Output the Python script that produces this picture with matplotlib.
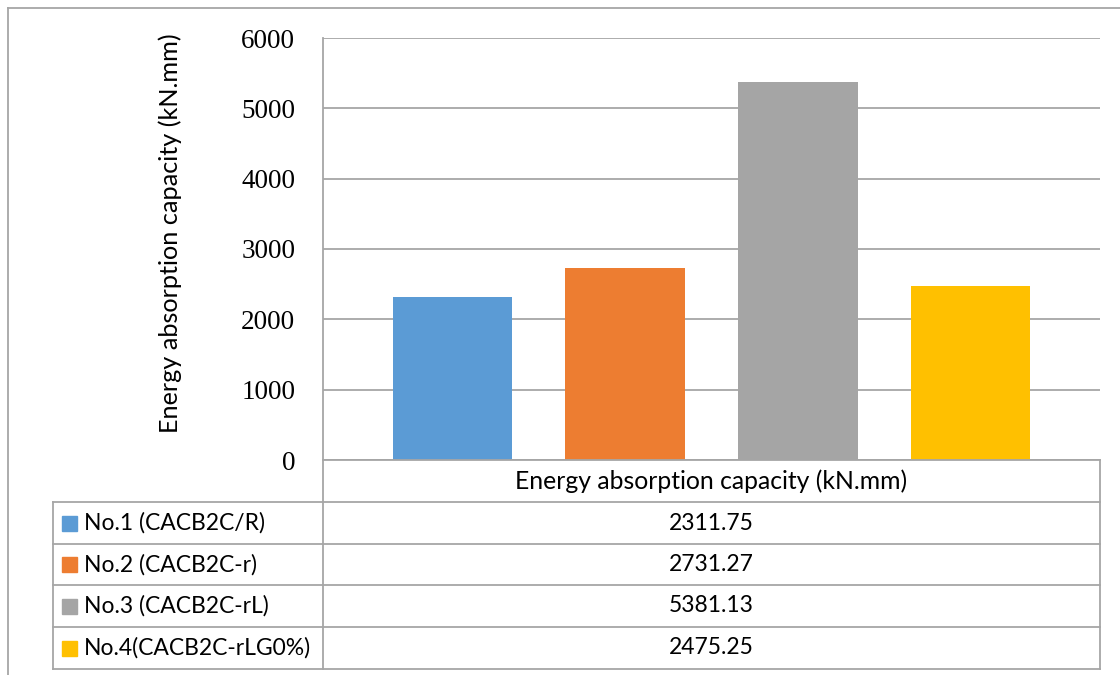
import matplotlib.pyplot as plt
from matplotlib.lines import Line2D
from matplotlib.patches import Rectangle
import numpy as np

# specimen series shown in the bar chart and its data table
specimens = ["No.1 (CACB2C/R)", "No.2 (CACB2C-r)", "No.3 (CACB2C-rL)", "No.4(CACB2C-rLG0%)"]
energy = [2311.75, 2731.27, 5381.13, 2475.25]
category = "Energy absorption capacity (kN.mm)"
y_ticks = [0, 1000, 2000, 3000, 4000, 5000, 6000]

colors = ["#5B9BD5", "#ED7D31", "#A5A5A5", "#FFC000"]
LINE = "#A6A6A6"
W, H = 1120, 675


def fx(x):
    return x / W


def fy(y):
    return 1 - y / H


def hline(fig, x0, x1, y, lw=1.3):
    fig.add_artist(Line2D([fx(x0), fx(x1)], [fy(y), fy(y)], color=LINE, lw=lw))


def vline(fig, x, y0, y1, lw=1.3):
    fig.add_artist(Line2D([fx(x), fx(x)], [fy(y0), fy(y1)], color=LINE, lw=lw))


fig = plt.figure(figsize=(W / 100, H / 100), dpi=100)
sans = "Lato"
serif = "Liberation Serif"

# plot area
left, right, top, bottom = 323, 1100, 38, 460
ax = fig.add_axes([fx(left), fy(bottom), (right - left) / W, (bottom - top) / H])
ax.bar(np.arange(len(energy)), energy, width=0.694, color=colors, zorder=3)
ax.set_xlim(-0.75, 3.75)
ax.set_ylim(0, 6000)
ax.set_yticks(y_ticks)
ax.set_yticklabels([str(t) for t in y_ticks], fontfamily=serif, fontsize=19.5)
ax.set_xticks([])
ax.tick_params(axis="y", length=0, pad=20)
ax.grid(axis="y", color=LINE, lw=1.3, zorder=0)
for s in ax.spines.values():
    s.set_visible(False)

fig.text(fx(170), fy(233), category, rotation=90, ha="center", va="center",
         fontfamily=sans, fontsize=18.2)

# outer chart border
hline(fig, 8, W, 8)
vline(fig, 8, 8, H)

# data table below the plot
tab_left = 53
rows = [460, 502, 544, 585, 627, 669]
vline(fig, left, top, rows[-1])
vline(fig, right, rows[0], rows[-1])
vline(fig, tab_left, rows[1], rows[-1])
hline(fig, left, right, rows[0])
for y in rows[1:]:
    hline(fig, tab_left, right, y)

mid_x = (left + right) / 2
fig.text(fx(mid_x), fy((rows[0] + rows[1]) / 2), category, ha="center", va="center",
         fontfamily=sans, fontsize=17.8)

for i, (name, val, c) in enumerate(zip(specimens, energy, colors)):
    yc = (rows[i + 1] + rows[i + 2]) / 2
    fig.add_artist(Rectangle((fx(62), fy(yc + 7.5)), 15 / W, 15 / H,
                             transform=fig.transFigure, color=c))
    fig.text(fx(84), fy(yc), name, ha="left", va="center",
             fontfamily=sans, fontsize=16.5)
    fig.text(fx(mid_x), fy(yc), f"{val:.2f}", ha="center", va="center",
             fontfamily=sans, fontsize=16.5)

fig.savefig("out.png", dpi=100)
